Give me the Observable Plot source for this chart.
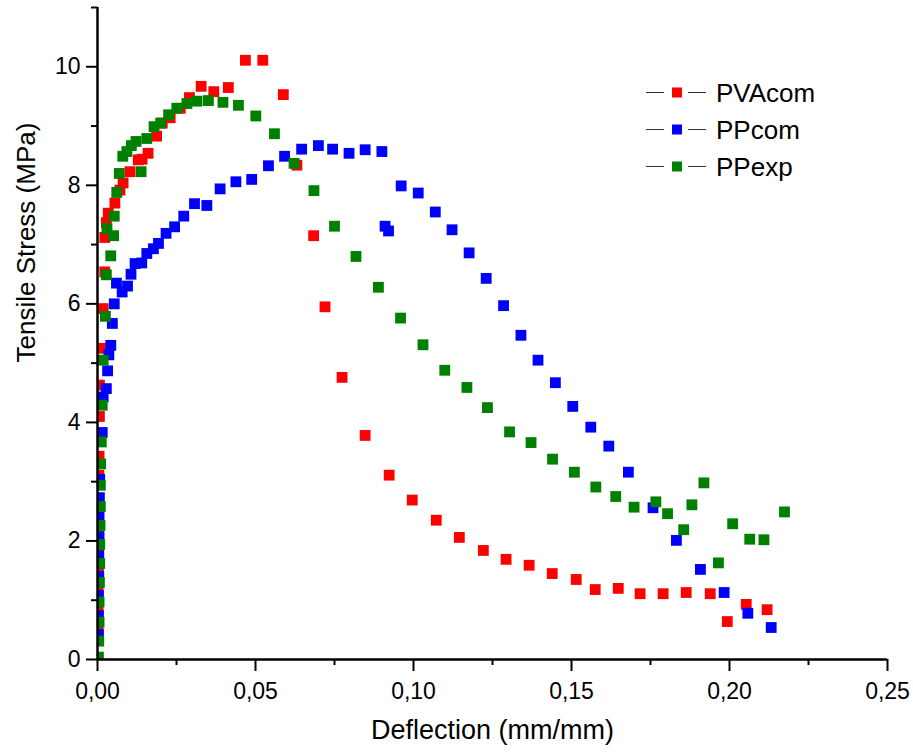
<!DOCTYPE html>
<html><head><meta charset="utf-8">
<script src="https://cdn.jsdelivr.net/npm/d3@7"></script>
<script src="https://cdn.jsdelivr.net/npm/@observablehq/plot@0.6"></script>
<style>
body{margin:0;background:#fff;}
#chart{width:913px;height:754px;}
</style>
</head><body><div id="chart"></div>
<script>
const seriesNames = ["PVAcom", "PPcom", "PPexp"];
const seriesColors = ["#ff0000", "#0000ff", "#008000"];

const pvaX = [0.0002,0.0002,0.0002,0.0003,0.0003,0.0003,0.0003,0.0004,0.0004,0.0005,0.0006,0.0006,0.0010,0.0018,0.0023,0.0023,0.0028,0.0034,0.0055,0.0071,0.0081,0.0103,0.0129,0.0141,0.0160,0.0187,0.0205,0.0230,0.0262,0.0291,0.0328,0.0368,0.0414,0.0468,0.0523,0.0588,0.0631,0.0684,0.0720,0.0774,0.0847,0.0923,0.0996,0.1072,0.1145,0.1221,0.1293,0.1366,0.1439,0.1515,0.1575,0.1648,0.1717,0.1790,0.1863,0.1939,0.1993,0.2053,0.2119];
const pvaY = [0.50,0.84,1.17,1.50,1.81,2.11,2.47,2.72,3.11,3.43,4.10,4.63,5.25,5.92,6.54,7.12,7.37,7.53,7.70,7.92,8.04,8.23,8.43,8.44,8.54,8.83,9.05,9.14,9.30,9.48,9.67,9.58,9.65,10.11,10.11,9.53,8.34,7.15,5.95,4.76,3.78,3.11,2.69,2.35,2.06,1.84,1.69,1.59,1.45,1.35,1.18,1.20,1.11,1.11,1.13,1.11,0.64,0.93,0.84];

const ppcX = [0.0003,0.0003,0.0003,0.0004,0.0004,0.0005,0.0005,0.0006,0.0007,0.0015,0.0018,0.0028,0.0032,0.0036,0.0042,0.0047,0.0053,0.0060,0.0078,0.0095,0.0106,0.0119,0.0140,0.0156,0.0177,0.0193,0.0217,0.0244,0.0273,0.0307,0.0346,0.0388,0.0438,0.0488,0.0541,0.0592,0.0646,0.0699,0.0744,0.0796,0.0847,0.0900,0.0910,0.0921,0.0961,0.1015,0.1069,0.1122,0.1176,0.1230,0.1285,0.1340,0.1394,0.1449,0.1504,0.1561,0.1618,0.1680,0.1758,0.1832,0.1908,0.1983,0.2058,0.2132];
const ppcY = [0.42,0.74,1.08,1.40,1.75,2.07,2.40,2.73,3.04,3.83,4.43,4.57,4.87,5.14,5.30,5.67,6.00,6.35,6.20,6.30,6.50,6.68,6.69,6.85,6.93,7.02,7.19,7.30,7.48,7.69,7.66,7.94,8.06,8.10,8.33,8.49,8.61,8.67,8.61,8.54,8.60,8.57,7.31,7.23,7.99,7.87,7.55,7.25,6.86,6.43,5.97,5.47,5.05,4.67,4.27,3.92,3.60,3.16,2.56,2.01,1.52,1.13,0.78,0.54];

const ppeX = [0.0003,0.0004,0.0005,0.0005,0.0006,0.0007,0.0007,0.0008,0.0009,0.0009,0.0010,0.0012,0.0015,0.0018,0.0025,0.0028,0.0042,0.0051,0.0030,0.0053,0.0061,0.0069,0.0080,0.0093,0.0107,0.0122,0.0138,0.0156,0.0179,0.0200,0.0225,0.0251,0.0283,0.0315,0.0351,0.0397,0.0446,0.0501,0.0560,0.0622,0.0685,0.0750,0.0818,0.0889,0.0959,0.1030,0.1099,0.1169,0.1234,0.1304,0.1372,0.1440,0.1509,0.1577,0.1640,0.1698,0.1767,0.1804,0.1855,0.1881,0.1919,0.1965,0.2010,0.2064,0.2109,0.2174];
const ppeY = [0.04,0.31,0.63,0.97,1.30,1.62,1.94,2.26,2.58,2.94,3.30,3.67,4.29,5.05,5.79,6.49,6.81,7.15,7.27,7.48,7.88,8.20,8.49,8.57,8.67,8.74,8.23,8.79,8.99,9.05,9.19,9.30,9.38,9.42,9.43,9.40,9.35,9.17,8.87,8.37,7.91,7.31,6.80,6.28,5.76,5.31,4.88,4.59,4.25,3.84,3.66,3.38,3.16,2.91,2.75,2.57,2.66,2.46,2.19,2.61,2.98,1.63,2.29,2.03,2.02,2.49];

const xMajorTicks = [0, 0.05, 0.10, 0.15, 0.20, 0.25];
const xMinorTicks = [0.025, 0.075, 0.125, 0.175, 0.225];
const yMajorTicks = [0, 2, 4, 6, 8, 10];
const yMinorTicks = [1, 3, 5, 7, 9, 11];
const xTitle = "Deflection (mm/mm)";
const yTitle = "Tensile Stress (MPa)";

const allX = [pvaX, ppcX, ppeX];
const allY = [pvaY, ppcY, ppeY];
const rows = [];
seriesNames.forEach((s, i) => {
  allX[i].forEach((x, j) => rows.push({series: s, x, y: allY[i][j]}));
});

const font = "'Liberation Sans', Arial, sans-serif";

const plot = Plot.plot({
  width: 913,
  height: 754,
  marginLeft: 97,
  marginRight: 26,
  marginTop: 7,
  marginBottom: 95,
  style: {fontFamily: font, background: "#fff", color: "#000", overflow: "visible"},
  x: {domain: [0, 0.25]},
  y: {domain: [0, 11]},
  color: {domain: seriesNames, range: seriesColors},
  marks: [
    Plot.dot(rows, {x: "x", y: "y", fill: "series", symbol: "square", r: 6.1, clip: true}),
    Plot.axisX({ticks: xMinorTicks, tickSize: 6, tickFormat: () => "", strokeWidth: 2, label: null}),
    Plot.axisX({ticks: xMajorTicks, tickSize: 12, tickPadding: 11, fontSize: 23, strokeWidth: 2, label: null,
      tickFormat: d => d.toFixed(2).replace(".", ",")}),
    Plot.axisY({ticks: yMinorTicks, tickSize: 6, tickFormat: () => "", strokeWidth: 2, label: null}),
    Plot.axisY({ticks: yMajorTicks, tickSize: 11, tickPadding: 6, fontSize: 23, strokeWidth: 2, label: null}),
    Plot.ruleY([0], {strokeWidth: 2.5}),
    Plot.ruleX([0], {strokeWidth: 2.5}),
    Plot.text([xTitle], {text: d => d, frameAnchor: "bottom", dy: 79, fontSize: 27}),
    Plot.text([yTitle], {text: d => d, frameAnchor: "left", rotate: -90, dx: -71, dy: 29, fontSize: 26})
  ]
});

// legend (inside plot, top right)
const svg = d3.select(plot);
const lg = svg.append("g").attr("font-family", font).attr("text-anchor", "start");
seriesNames.forEach((name, i) => {
  const cy = 92.5 + i * 37;
  const g = lg.append("g");
  g.append("line").attr("x1", 646).attr("x2", 664).attr("y1", cy).attr("y2", cy).attr("stroke", "#333").attr("stroke-width", 1);
  g.append("line").attr("x1", 688).attr("x2", 706).attr("y1", cy).attr("y2", cy).attr("stroke", "#333").attr("stroke-width", 1);
  g.append("rect").attr("x", 672).attr("y", cy - 5).attr("width", 10).attr("height", 10).attr("fill", seriesColors[i]);
  g.append("text").attr("x", 716).attr("y", cy + 9.5).attr("font-size", 26).attr("fill", "#000").attr("text-anchor", "start").text(name);
});

document.getElementById("chart").appendChild(plot);
</script>
</body></html>
